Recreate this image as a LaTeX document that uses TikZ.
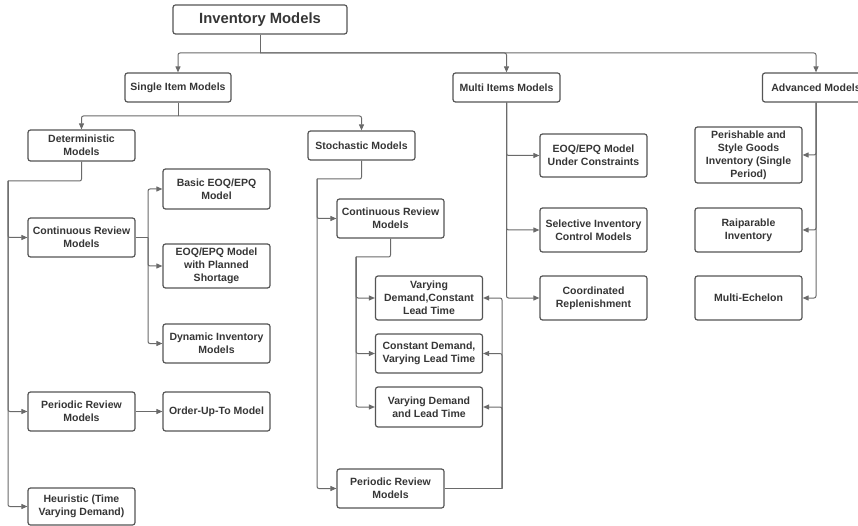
\documentclass[tikz,border=0pt]{standalone}
\usepackage{fontspec}
\setmainfont{Liberation Sans}
\usetikzlibrary{arrows.meta}
\definecolor{txt}{HTML}{363636}
\definecolor{bord}{HTML}{555555}
\definecolor{conn}{HTML}{6A6A6A}
\tikzset{
  box/.style={draw=bord, line width=1.2pt, rounded corners=2.5pt, fill=white,
    text=txt, font=\fontsize{10.5}{13}\selectfont\bfseries, align=center,
    minimum width=107pt, inner sep=1pt},
  conline/.style={draw=conn, line width=1pt, rounded corners=2pt},
  arr/.style={conline, -{Triangle[length=6pt,width=5pt]}},
}
\begin{document}
\begin{tikzpicture}[x=1pt,y=-1pt]
\useasboundingbox[fill=white] (0,0) rectangle (858,526);
% nodes
\node[box, minimum width=174pt, minimum height=29pt, font=\fontsize{14.8}{17}\selectfont\bfseries] (root) at (260,19.5) {Inventory Models};
\node[box, minimum width=106pt, minimum height=29pt] (single) at (178,87.5) {Single Item Models};
\node[box, minimum height=29pt] (multi) at (506.5,87.5) {Multi Items Models};
\node[box, minimum height=29pt] (adv) at (816,87.5) {Advanced Models};
\node[box, minimum height=31pt] (det) at (81.5,145.5) {Deterministic\\Models};
\node[box, minimum height=29pt] (stoch) at (361.5,145.5) {Stochastic Models};
\node[box, minimum height=39pt] (detCR) at (81.5,237.5) {Continuous Review\\Models};
\node[box, minimum height=40pt] (basic) at (216.5,189) {Basic EOQ/EPQ\\Model};
\node[box, minimum height=44pt] (short) at (216.5,266) {EOQ/EPQ Model\\with Planned\\Shortage};
\node[box, minimum height=39pt] (dyn) at (216.5,343.5) {Dynamic Inventory\\Models};
\node[box, minimum height=39pt] (detPR) at (81.5,411.5) {Periodic Review\\Models};
\node[box, minimum height=39pt] (out) at (216.5,411.5) {Order-Up-To Model};
\node[box, minimum height=37pt] (heur) at (81.5,506.5) {Heuristic (Time\\Varying Demand)};
\node[box, minimum height=39pt] (stCR) at (390.5,218.5) {Continuous Review\\Models};
\node[box, minimum height=44pt] (vdclt) at (429,298) {Varying\\Demand,Constant\\Lead Time};
\node[box, minimum height=39pt] (cdvlt) at (429,353.5) {Constant Demand,\\Varying Lead Time};
\node[box, minimum height=40pt] (vdlt) at (429,407) {Varying Demand\\and Lead Time};
\node[box, minimum height=39pt] (stPR) at (390.5,488.5) {Periodic Review\\Models};
\node[box, minimum height=43pt] (eoqc) at (593.5,155.5) {EOQ/EPQ Model\\Under Constraints};
\node[box, minimum height=44pt] (sel) at (593.5,230) {Selective Inventory\\Control Models};
\node[box, minimum height=44pt] (coord) at (593.5,298) {Coordinated\\Replenishment};
\node[box, minimum height=56pt] (per) at (748.5,155) {Perishable and\\Style Goods\\Inventory (Single\\Period)};
\node[box, minimum height=44pt] (rep) at (748.5,230) {Raiparable\\Inventory};
\node[box, minimum height=44pt] (mech) at (748.5,298) {Multi-Echelon};
% junctions
\coordinate (j0) at (260,53);
\coordinate (j1) at (178,116);
\coordinate (dt) at (8,181);
\coordinate (cb) at (148,237.5);
\coordinate (st) at (317,179);
\coordinate (sc) at (356,257);
\coordinate (pr) at (502,488.5);
% connectors
\draw[conline] (root.south) -- (j0);
\draw[arr] (j0) -| (single.north);
\draw[arr] (j0) -| (multi.north);
\draw[arr] (j0) -| (adv.north);
\draw[conline] (single.south) -- (j1);
\draw[arr] (j1) -| (det.north);
\draw[arr] (j1) -| (stoch.north);
\draw[conline] (det.south) |- (dt);
\draw[arr] (dt) |- (detCR.west);
\draw[arr] (dt) |- (detPR.west);
\draw[arr] (dt) |- (heur.west);
\draw[conline] (detCR.east) -- (cb);
\draw[arr] (cb) |- (basic.west);
\draw[arr] (cb) |- (short.west);
\draw[arr] (cb) |- (dyn.west);
\draw[arr] (detPR.east) -- (out.west);
\draw[conline] (stoch.south) |- (st);
\draw[arr] (st) |- (stCR.west);
\draw[arr] (st) |- (stPR.west);
\draw[conline] (stCR.south) |- (sc);
\draw[arr] (sc) |- (vdclt.west);
\draw[arr] (sc) |- (cdvlt.west);
\draw[arr] (sc) |- (vdlt.west);
\draw[conline] (stPR.east) -- (pr);
\draw[arr] (pr) |- (vdclt.east);
\draw[arr] (pr) |- (cdvlt.east);
\draw[arr] (pr) |- (vdlt.east);
\draw[arr] (multi.south) |- (eoqc.west);
\draw[arr] (multi.south) |- (sel.west);
\draw[arr] (multi.south) |- (coord.west);
\draw[arr] (adv.south) |- (per.east);
\draw[arr] (adv.south) |- (rep.east);
\draw[arr] (adv.south) |- (mech.east);
\end{tikzpicture}
\end{document}
